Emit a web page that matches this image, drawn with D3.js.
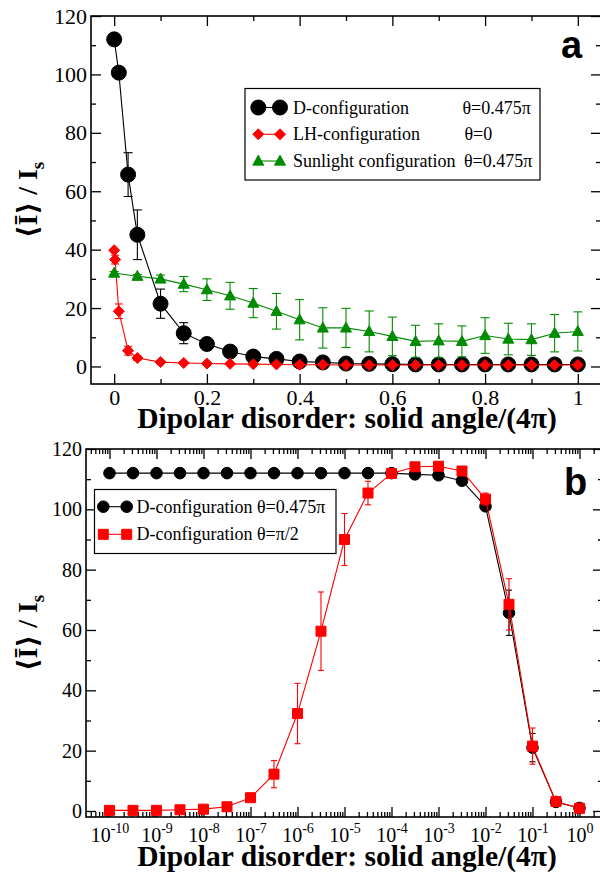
<!DOCTYPE html>
<html>
<head>
<meta charset="utf-8">
<script src="https://cdn.jsdelivr.net/npm/d3@7"></script>
<style>
  body { margin: 0; background: #fff; }
  svg text { font-family: "Liberation Serif", "DejaVu Serif", serif; }
</style>
</head>
<body>
<div id="chart"></div>
<script>
// ---- panel a data (linear x) ----
const dX = [0, 0.01, 0.03, 0.05, 0.1, 0.15, 0.2, 0.25, 0.3, 0.35, 0.4, 0.45, 0.5, 0.55, 0.6, 0.65, 0.7, 0.75, 0.8, 0.85, 0.9, 0.95, 1.0];
const dY = [112, 100.6, 65.7, 45.1, 21.5, 11.4, 7.7, 5.1, 3.4, 2.6, 1.7, 1.4, 1.0, 0.9, 0.8, 0.7, 0.7, 0.7, 0.7, 0.7, 0.7, 0.7, 0.7];
const dErr = [0.5, 1.5, 7.5, 8.5, 5, 3.6, 1.5, 1, 0.8, 0.6, 0.5, 0.4, 0.4, 0.3, 0.3, 0.3, 0.3, 0.3, 0.3, 0.3, 0.3, 0.3, 0.3];

const lhX = [0, 0.002, 0.01, 0.03, 0.05, 0.1, 0.15, 0.2, 0.25, 0.3, 0.35, 0.4, 0.45, 0.5, 0.55, 0.6, 0.65, 0.7, 0.75, 0.8, 0.85, 0.9, 0.95, 1.0];
const lhY = [39.8, 36.6, 18.9, 5.4, 2.9, 1.5, 1.2, 1.0, 0.9, 0.8, 0.7, 0.6, 0.6, 0.5, 0.5, 0.5, 0.5, 0.5, 0.5, 0.5, 0.5, 0.5, 0.5, 0.5];
const lhErr = [0, 1.5, 2.5, 1.5, 0.8, 0.5, 0.3, 0.3, 0.2, 0.2, 0.2, 0.2, 0.2, 0.2, 0.2, 0.2, 0.2, 0.2, 0.2, 0.2, 0.2, 0.2, 0.2, 0.2];

const sunX = [0, 0.05, 0.1, 0.15, 0.2, 0.25, 0.3, 0.35, 0.4, 0.45, 0.5, 0.55, 0.6, 0.65, 0.7, 0.75, 0.8, 0.85, 0.9, 0.95, 1.0];
const sunY = [32.0, 30.9, 30.0, 28.2, 26.3, 24.2, 21.7, 18.9, 16.0, 13.2, 13.2, 12.0, 10.3, 8.6, 8.8, 8.6, 10.6, 9.4, 9.2, 11.4, 12.0];
const sunErr = [0.5, 0.6, 1.3, 2.6, 3.7, 4.6, 5.0, 6.1, 6.9, 6.9, 6.7, 7.0, 6.6, 5.5, 5.8, 5.3, 6.1, 5.4, 5.4, 6.4, 6.7];

// ---- panel b data (log x) ----
const bX = [1e-10, 3.16e-10, 1e-9, 3.16e-9, 1e-8, 3.16e-8, 1e-7, 3.16e-7, 1e-6, 3.16e-6, 1e-5, 3.16e-5, 1e-4, 3.16e-4, 1e-3, 3.16e-3, 1e-2, 3.16e-2, 0.1, 0.316, 1];
const bBlackY = [112, 112, 112, 112, 112, 112, 112, 112, 112, 112, 112, 112, 112, 111.6, 111.3, 109.5, 101, 65.7, 21, 3, 1];
const bBlackErr = [0, 0, 0, 0, 0, 0, 0, 0, 0, 0, 0, 0, 0, 0.5, 0.5, 1, 1.2, 7.5, 4.7, 0.6, 0.4];
const bRedY = [0.2, 0.2, 0.2, 0.4, 0.6, 1.4, 4.4, 12.2, 32.3, 59.6, 90, 105.4, 111.9, 114.1, 114.3, 112.7, 103.4, 68.5, 21.5, 3.1, 0.9];
const bRedErr = [0, 0, 0, 0, 0.3, 0.5, 1, 4.5, 10, 13, 8.6, 3.9, 1, 0.5, 0.5, 1, 2, 8.5, 6, 0.5, 0.5];

// ticks
const aMajorX = [0, 0.2, 0.4, 0.6, 0.8, 1];
const aMinorX = [0.1, 0.3, 0.5, 0.7, 0.9];
const yMajor = [0, 20, 40, 60, 80, 100, 120];
const yMinor = [10, 30, 50, 70, 90, 110];
const bMajorExp = [-10, -9, -8, -7, -6, -5, -4, -3, -2, -1, 0];

const RED = "#ff0000", GREEN = "#008b00";
const SANS = "'Liberation Sans', Arial, sans-serif";

const svg = d3.select("#chart").append("svg")
  .attr("width", 600).attr("height", 874);

const pa = { left: 91, right: 601, top: 16, bottom: 384 };
const pb = { left: 86, right: 603, top: 449, bottom: 817 };

const xa = d3.scaleLinear().domain([-0.05, 1.05]).range([pa.left, pa.right]);
const ya = d3.scaleLinear().domain([-6, 120]).range([pa.bottom, pa.top]);
const xb = d3.scaleLog().domain([Math.pow(10, -10.5), Math.pow(10, 0.5)]).range([pb.left, pb.right]);
const yb = d3.scaleLinear().domain([-2, 120]).range([pb.bottom, pb.top]);

// draw ticks with a d3 axis, inward, without the domain line
function tickAxis(axis, tx, ty, size, labels, fs) {
  const g = svg.append("g").attr("transform", "translate(" + tx + "," + ty + ")");
  axis.tickSize(size).tickPadding(5);
  if (!labels) axis.tickFormat("");
  g.call(axis);
  g.select(".domain").remove();
  g.selectAll("line").attr("stroke", "#000").attr("stroke-width", 1.3);
  g.selectAll("text").attr("font-size", fs).attr("fill", "#000");
  return g;
}

// ---- panel a axes ----
let g = tickAxis(d3.axisBottom(xa).tickValues(aMajorX).tickFormat(d3.format("")), 0, pa.bottom, -10, true, 22);
g.selectAll("text").attr("dy", null).attr("y", 21);
tickAxis(d3.axisBottom(xa).tickValues(aMinorX), 0, pa.bottom, -5, false);
tickAxis(d3.axisTop(xa).tickValues(aMajorX), 0, pa.top, -10, false);
tickAxis(d3.axisTop(xa).tickValues(aMinorX), 0, pa.top, -5, false);
g = tickAxis(d3.axisLeft(ya).tickValues(yMajor), pa.left, 0, -10, true, 22);
g.selectAll("text").attr("x", -4);
tickAxis(d3.axisLeft(ya).tickValues(yMinor), pa.left, 0, -5, false);
tickAxis(d3.axisRight(ya).tickValues(yMajor), pa.right, 0, -10, false);
tickAxis(d3.axisRight(ya).tickValues(yMinor), pa.right, 0, -5, false);

// ---- panel b axes ----
const bMajor = bMajorExp.map(e => Math.pow(10, e));
const bMinor = [];
bMajorExp.forEach(e => { for (let m = 2; m <= 9; m++) { const v = m * Math.pow(10, e); if (v < Math.pow(10, 0.5)) bMinor.push(v); } });
for (let m = 4; m <= 9; m++) bMinor.push(m * 1e-11);

g = tickAxis(d3.axisBottom(xb).tickValues(bMajor), 0, pb.bottom, -10, false);
g.selectAll(".tick").each(function (d, i) {
  const t = d3.select(this).append("text")
    .attr("y", 25).attr("text-anchor", "middle").attr("fill", "#000")
    .attr("font-size", 20);
  t.append("tspan").text("10");
  t.append("tspan").attr("dy", -9).attr("font-size", 14).text(bMajorExp[i] === 0 ? "0" : "-" + Math.abs(bMajorExp[i]));
});
tickAxis(d3.axisBottom(xb).tickValues(bMinor), 0, pb.bottom, -5, false);
tickAxis(d3.axisTop(xb).tickValues(bMajor), 0, pb.top, -10, false);
tickAxis(d3.axisTop(xb).tickValues(bMinor), 0, pb.top, -5, false);
g = tickAxis(d3.axisLeft(yb).tickValues(yMajor), pb.left, 0, -10, true, 20);
g.selectAll("text").attr("x", -4);
tickAxis(d3.axisLeft(yb).tickValues(yMinor), pb.left, 0, -5, false);
tickAxis(d3.axisRight(yb).tickValues(yMajor), pb.right, 0, -10, false);
tickAxis(d3.axisRight(yb).tickValues(yMinor), pb.right, 0, -5, false);

// frames
[pa, pb].forEach(p => {
  svg.append("rect").attr("x", p.left).attr("y", p.top)
    .attr("width", p.right - p.left).attr("height", p.bottom - p.top)
    .attr("fill", "none").attr("stroke", "#000").attr("stroke-width", 1.6);
});

// ---- marker shapes ----
const shapes = {
  circle: (s) => "M" + (-s) + ",0A" + s + "," + s + " 0 1,0 " + s + ",0A" + s + "," + s + " 0 1,0 " + (-s) + ",0Z",
  diamond: (s) => "M0," + (-s) + "L" + s + ",0L0," + s + "L" + (-s) + ",0Z",
  triangle: (s) => "M0," + (-s * 1.05) + "L" + s + "," + (s * 0.75) + "L" + (-s) + "," + (s * 0.75) + "Z",
  square: (s) => "M" + (-s) + "," + (-s) + "H" + s + "V" + s + "H" + (-s) + "Z"
};

function series(xs, ys, errs, xS, yS, color, shape, size, cap) {
  const pts = xs.map((x, i) => ({ x: x, y: ys[i], e: errs[i] }));
  const grp = svg.append("g");
  // error bars
  pts.filter(p => p.e > 0).forEach(p => {
    const cx = xS(p.x), y1 = yS(p.y + p.e), y2 = yS(p.y - p.e);
    grp.append("line").attr("x1", cx).attr("x2", cx).attr("y1", y1).attr("y2", y2)
      .attr("stroke", color).attr("stroke-width", 1.1);
    [y1, y2].forEach(yy => grp.append("line").attr("x1", cx - cap).attr("x2", cx + cap)
      .attr("y1", yy).attr("y2", yy).attr("stroke", color).attr("stroke-width", 1.1));
  });
  grp.append("path").datum(pts)
    .attr("d", d3.line().x(d => xS(d.x)).y(d => yS(d.y)))
    .attr("fill", "none").attr("stroke", color).attr("stroke-width", 1.1);
  grp.selectAll("path.m").data(pts).enter().append("path").attr("class", "m")
    .attr("transform", d => "translate(" + xS(d.x) + "," + yS(d.y) + ")")
    .attr("d", shapes[shape](size))
    .attr("fill", color).attr("stroke", color).attr("stroke-width", 1);
}

series(dX, dY, dErr, xa, ya, "#000", "circle", 7.5, 4.5);
series(lhX, lhY, lhErr, xa, ya, RED, "diamond", 5.5, 4);
series(sunX, sunY, sunErr, xa, ya, GREEN, "triangle", 5.5, 4.5);

series(bX, bBlackY, bBlackErr, xb, yb, "#000", "circle", 5.8, 3);
series(bX, bRedY, bRedErr, xb, yb, RED, "square", 5, 3);

// ---- legends ----
function legendRow(x1, x2, y, color, shape, size) {
  svg.append("line").attr("x1", x1).attr("x2", x2).attr("y1", y).attr("y2", y)
    .attr("stroke", color).attr("stroke-width", 1.1);
  [x1, x2].forEach(x => svg.append("path")
    .attr("transform", "translate(" + x + "," + y + ")")
    .attr("d", shapes[shape](size)).attr("fill", color).attr("stroke", color));
}

svg.append("rect").attr("x", 245).attr("y", 88.5).attr("width", 295).attr("height", 91.5)
  .attr("fill", "#fff").attr("stroke", "#000").attr("stroke-width", 1.2);
const legA = [
  { name: "D-configuration", th: "θ=0.475π", thx: 462.5, c: "#000", s: "circle", sz: 7.5, y: 107.5 },
  { name: "LH-configuration", th: "θ=0", thx: 464.5, c: RED, s: "diamond", sz: 5.5, y: 134.3 },
  { name: "Sunlight configuration", th: "θ=0.475π", thx: 464, c: GREEN, s: "triangle", sz: 5.5, y: 161 }
];
legA.forEach(r => {
  legendRow(258.3, 280, r.y, r.c, r.s, r.sz);
  svg.append("text").attr("x", 293).attr("y", r.y + 6).attr("font-size", 18).text(r.name);
  svg.append("text").attr("x", r.thx).attr("y", r.y + 6).attr("font-size", 18).text(r.th);
});

svg.append("rect").attr("x", 94.5).attr("y", 489.5).attr("width", 241.5).attr("height", 64)
  .attr("fill", "#fff").attr("stroke", "#000").attr("stroke-width", 1.2);
const legB = [
  { name: "D-configuration θ=0.475π", c: "#000", s: "circle", sz: 5.8, y: 506.7 },
  { name: "D-configuration θ=π/2", c: RED, s: "square", sz: 5, y: 534.3 }
];
legB.forEach(r => {
  legendRow(103.3, 126.7, r.y, r.c, r.s, r.sz);
  svg.append("text").attr("x", 136.5).attr("y", r.y + 6).attr("font-size", 18).text(r.name);
});

// ---- panel letters (sans bold) ----
svg.append("text").attr("x", 561).attr("y", 58).style("font-family", SANS)
  .attr("font-weight", "bold").attr("font-size", 38).text("a");
svg.append("text").attr("x", 564).attr("y", 495).style("font-family", SANS)
  .attr("font-weight", "bold").attr("font-size", 38).text("b");

// ---- axis titles ----
[428, 866].forEach(yy => {
  svg.append("text").attr("x", 347).attr("y", yy).attr("text-anchor", "middle")
    .attr("font-weight", "bold").attr("font-size", 29.5)
    .text("Dipolar disorder: solid angle/(4π)");
});
[[37, 200], [37, 633]].forEach(([xx, yy]) => {
  const t = svg.append("text").attr("transform", "translate(" + xx + "," + yy + ") rotate(-90)")
    .attr("text-anchor", "middle").attr("font-weight", "bold").attr("font-size", 28);
  t.append("tspan").text("⟨Ī⟩ / I");
  t.append("tspan").attr("dy", 7).attr("font-size", 19).text("s");
});
</script>
</body>
</html>
